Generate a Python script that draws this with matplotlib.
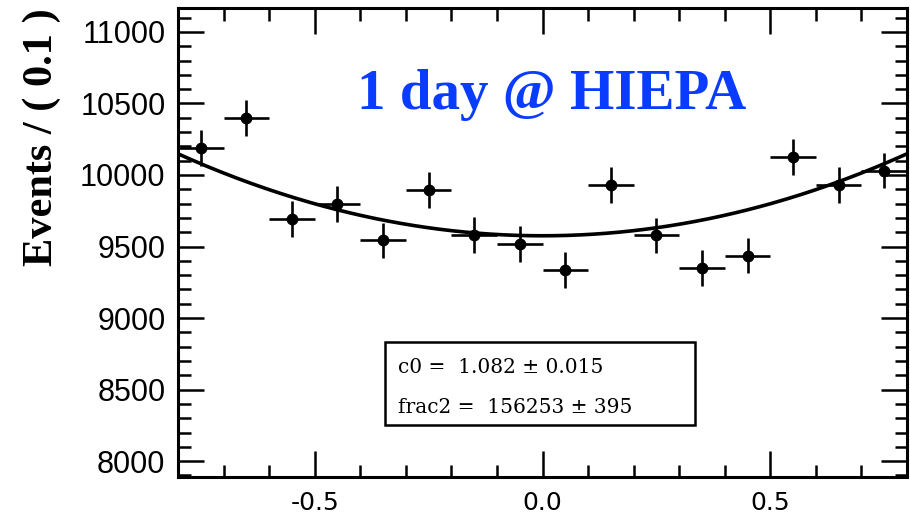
import numpy as np
import matplotlib
matplotlib.use("Agg")
import matplotlib.pyplot as plt
from matplotlib.ticker import MultipleLocator
from matplotlib.patches import Rectangle

# Binned angular distribution (bin width 0.1)
bin_centers = [-0.75, -0.65, -0.55, -0.45, -0.35, -0.25, -0.15, -0.05,
               0.05, 0.15, 0.25, 0.35, 0.45, 0.55, 0.65, 0.75]
events = [10190, 10400, 9690, 9795, 9542, 9896, 9582, 9519,
          9337, 9929, 9577, 9348, 9437, 10125, 9929, 10031]
event_err = [125, 125, 125, 125, 125, 125, 125, 125,
             125, 125, 125, 125, 125, 125, 125, 125]
bin_half_width = 0.05

# Fitted shape: A * (1 + B * x^2)
fit_norm = 9575.0
fit_shape = 0.0935

y_ticks = [8000, 8500, 9000, 9500, 10000, 10500, 11000]
x_ticks = [-0.5, 0.0, 0.5]
x_tick_labels = ["-0.5", "0.0", "0.5"]

W, H = 910, 515
fig = plt.figure(figsize=(W / 100, H / 100), dpi=100)
ax = fig.add_axes([178 / W, 1 - 477 / H, (907 - 178) / W, (477 - 8) / H])

ax.errorbar(bin_centers, events, yerr=event_err,
            xerr=[bin_half_width] * len(bin_centers),
            fmt="o", color="black", markersize=7.5, elinewidth=1.9,
            capsize=0, zorder=3)

xc = np.linspace(-0.8, 0.8, 400)
ax.plot(xc, fit_norm * (1 + fit_shape * xc ** 2), color="black", lw=2.6, zorder=2)

ax.set_xlim(-0.8, 0.8)
ax.set_ylim(7889, 11167)
ax.set_xticks(x_ticks)
ax.set_yticks(y_ticks)
ax.set_xticklabels(x_tick_labels)
ax.xaxis.set_minor_locator(MultipleLocator(0.1))
ax.yaxis.set_minor_locator(MultipleLocator(100))
ax.tick_params(which="both", direction="in", top=True, right=True, width=1.8)
ax.tick_params(which="major", length=19)
ax.tick_params(which="minor", length=9)
ax.tick_params(axis="y", which="major", pad=9, labelsize=22)
ax.tick_params(axis="x", which="major", pad=10, labelsize=18)
for lab in ax.get_yticklabels():
    lab.set_family("Liberation Sans")
for lab in ax.get_xticklabels():
    lab.set_family("DejaVu Sans")
for s in ax.spines.values():
    s.set_linewidth(2.2)

fig.text(42 / W, 1 - 137 / H, "Events / ( 0.1 )", rotation=90,
         ha="center", va="center", family="Liberation Serif",
         fontweight="bold", fontsize=30.5)

fig.text(0.5 * (358 + 745) / W, 1 - 95 / H, "1 day @ HIEPA",
         ha="center", va="center", family="Liberation Serif",
         fontweight="bold", fontsize=41, color="#0a3cff")

# Fit-parameter box
box = Rectangle((385 / W, 1 - 425 / H), (695 - 385) / W, (425 - 342) / H,
                transform=fig.transFigure, facecolor="white",
                edgecolor="black", lw=1.8, zorder=5)
fig.patches.append(box)
fig.text(398 / W, 1 - 373 / H, "c0 =  1.082 ± 0.015", family="DejaVu Serif",
         fontsize=14.5, va="baseline", zorder=6)
fig.text(398 / W, 1 - 413 / H, "frac2 =  156253 ± 395", family="DejaVu Serif",
         fontsize=14.5, va="baseline", zorder=6)

fig.savefig("out.png", dpi=100)
